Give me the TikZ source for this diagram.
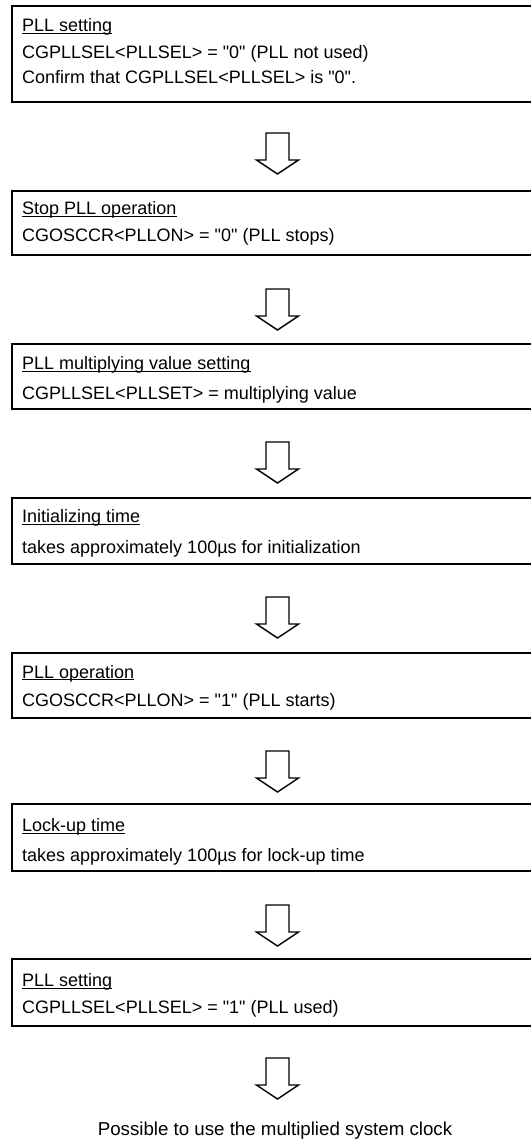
\documentclass[tikz,border=0pt]{standalone}
\usepackage{fontspec}
\setmainfont{Liberation Sans}[Ligatures=TeXOff]
\tikzset{
  x=1pt, y=-1pt,
  box/.style={draw, line width=1.6pt, rectangle, inner sep=0pt, anchor=north west, minimum width=540pt},
  txt/.style={anchor=base west, inner sep=0pt, font=\fontsize{18}{22}\selectfont},
  uline/.style={line width=1.1pt},
  blockarrow/.style={draw, line width=1.4pt, line join=miter, fill=white},
}
\newcommand{\blkarrow}[1]{\draw[blockarrow] (#1) ++(-11.5,0) -- ++(0,27) -- ++(-9.5,0) -- ++(21,14) -- ++(21,-14) -- ++(-9.5,0) -- ++(0,-27) -- cycle;}
\newcommand{\ul}[1]{\draw[uline] ([yshift=-1.8pt]#1.base west) -- ([yshift=-1.8pt]#1.base east);}
\begin{document}
\begin{tikzpicture}
\useasboundingbox (0,0) rectangle (530,1142);
% boxes
\node[box, minimum height=96pt] (b1) at (11,5) {};
\node[box, minimum height=64pt] (b2) at (11,190) {};
\node[box, minimum height=65pt] (b3) at (11,343) {};
\node[box, minimum height=66pt] (b4) at (11,497) {};
\node[box, minimum height=65pt] (b5) at (11,652) {};
\node[box, minimum height=67pt] (b6) at (11,803) {};
\node[box, minimum height=67pt] (b7) at (11,958) {};
% texts
\node[txt] (t11) at (22,31.7) {PLL setting}; \ul{t11}
\node[txt] (t12) at (22,58.3) {CGPLLSEL<PLLSEL> = "0" (PLL not used)};
\node[txt] (t13) at (22,84) {Confirm that CGPLLSEL<PLLSEL> is "0".};
\node[txt] (t21) at (22,214.5) {Stop PLL operation}; \ul{t21}
\node[txt] (t22) at (22,241) {CGOSCCR<PLLON> = "0" (PLL stops)};
\node[txt] (t31) at (22,369.5) {PLL multiplying value setting}; \ul{t31}
\node[txt] (t32) at (22,399) {CGPLLSEL<PLLSET> = multiplying value};
\node[txt] (t41) at (22,522.5) {Initializing time}; \ul{t41}
\node[txt] (t42) at (22,553) {takes approximately 100µs for initialization};
\node[txt] (t51) at (22,678) {PLL operation}; \ul{t51}
\node[txt] (t52) at (22,706.5) {CGOSCCR<PLLON> = "1" (PLL starts)};
\node[txt] (t61) at (22,831.5) {Lock-up time}; \ul{t61}
\node[txt] (t62) at (22,861) {takes approximately 100µs for lock-up time};
\node[txt] (t71) at (22,986.5) {PLL setting}; \ul{t71}
\node[txt] (t72) at (22,1013) {CGPLLSEL<PLLSEL> = "1" (PLL used)};
\node[txt, anchor=base, font=\fontsize{18.7}{22}\selectfont] (end) at (275,1135) {Possible to use the multiplied system clock};
% arrows
\coordinate (a1) at (277.5,133);
\coordinate (a2) at (277.5,289);
\coordinate (a3) at (277.5,442);
\coordinate (a4) at (277.5,597);
\coordinate (a5) at (277.5,751);
\coordinate (a6) at (277.5,905);
\coordinate (a7) at (277.5,1058);
\blkarrow{a1}\blkarrow{a2}\blkarrow{a3}\blkarrow{a4}\blkarrow{a5}\blkarrow{a6}\blkarrow{a7}
\end{tikzpicture}
\end{document}
